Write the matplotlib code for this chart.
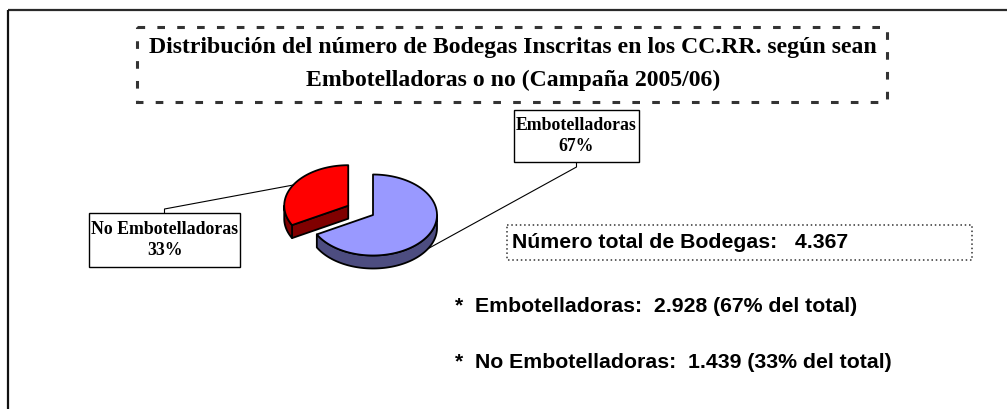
import numpy as np
import matplotlib
matplotlib.use('Agg')
import matplotlib.pyplot as plt
from matplotlib.patches import Polygon, Rectangle

# Data
categories = ['Embotelladoras', 'No Embotelladoras']
counts = [2928, 1439]
top_colors = ['#9999FF', '#FF0000']
side_colors = ['#4D4D80', '#800000']
explode = [0.0, 0.45]

title_lines = ['Distribución del número de Bodegas Inscritas en los CC.RR. según sean',
               'Embotelladoras o no (Campaña 2005/06)']

total = sum(counts)
pcts = [round(100 * c / total) for c in counts]


def miles(n):
    return f'{n:,}'.replace(',', '.')


fig = plt.figure(figsize=(10.07, 4.09), dpi=100)
ax = fig.add_axes([0, 0, 1, 1])
ax.set_xlim(0, 1007)
ax.set_ylim(409, 0)
ax.axis('off')

# outer frame (top + left only)
ax.plot([8, 1007], [9.5, 9.5], color='#2a2a2a', lw=1.6, solid_capstyle='butt')
ax.plot([8, 8], [9.5, 409], color='#111111', lw=1.6, solid_capstyle='butt')

# title with dashed box
ax.add_patch(Rectangle((137, 27), 750, 75, fill=False, ec='#333333', lw=2.2,
                       linestyle=(0, (2.5, 4))))
serif = 'Liberation Serif'
ax.text(513, 48, title_lines[0], ha='center', va='center', fontsize=17.1,
        fontweight='bold', family=serif)
ax.text(513, 80, title_lines[1], ha='center', va='center', fontsize=17.1,
        fontweight='bold', family=serif)

# 3D pie
CX, CY = 373, 215
RX, RY = 64, 40.5
DEPTH = 13


def pt(cx, cy, a, dz=0):
    r = np.radians(a)
    return cx + RX * np.cos(r), cy - RY * np.sin(r) + dz


def arc(cx, cy, a0, a1, dz=0):
    aa = np.linspace(a0, a1, 120)
    r = np.radians(aa)
    return np.column_stack([cx + RX * np.cos(r), cy - RY * np.sin(r) + dz])


# angles: start at 12 o'clock, clockwise
spans = []
start = 90.0
for c in counts:
    sweep = 360.0 * c / total
    spans.append((start - sweep, start))
    start -= sweep

anchors = {}
for i in [1, 0]:
    t1, t2 = spans[i]
    mid = (t1 + t2) / 2
    mr = np.radians(mid)
    cx = CX + explode[i] * RX * np.cos(mr)
    cy = CY - explode[i] * RY * np.sin(mr)
    ec = dict(ec='black', lw=1.3, joinstyle='round')

    # radial side faces facing the viewer
    for a, nrm in ((t1, t1 - 90), (t2, t2 + 90)):
        if np.sin(np.radians(nrm)) < -1e-6:
            face = [(cx, cy), pt(cx, cy, a), pt(cx, cy, a, DEPTH), (cx, cy + DEPTH)]
            ax.add_patch(Polygon(face, closed=True, fc=side_colors[i], **ec))

    # outer wall (front half)
    for k in (-1, 0, 1):
        lo = max(t1, 180 + 360 * k)
        hi = min(t2, 360 + 360 * k)
        if hi > lo:
            top = arc(cx, cy, lo, hi)
            bot = arc(cx, cy, hi, lo, DEPTH)
            ax.add_patch(Polygon(np.vstack([top, bot]), closed=True,
                                 fc=side_colors[i], **ec))

    # top face
    face = np.vstack([[cx, cy], arc(cx, cy, t1, t2)])
    ax.add_patch(Polygon(face, closed=True, fc=top_colors[i], **ec))

    dz = DEPTH if np.sin(mr) < 0 else 0
    anchors[i] = pt(cx, cy, mid, dz)

# data labels
label_boxes = {0: (514, 110, 125, 52), 1: (89, 213, 151, 54)}
for i, (bx, by, bw, bh) in label_boxes.items():
    ax.add_patch(Rectangle((bx, by), bw, bh, fc='white', ec='black', lw=1.0, zorder=3))
    ax.text(bx + bw / 2, by + bh / 2, f'{categories[i]}\n{pcts[i]}%', ha='center',
            va='center', fontsize=12.8, fontweight='bold', family=serif,
            linespacing=1.25, zorder=4)
    ax_, ay_ = anchors[i]
    lx = bx + bw / 2
    if ay_ > by + bh:
        ly = by + bh
        pts_y = [ly, ly + 5, ay_]
    else:
        ly = by
        pts_y = [ly, ly - 4, ay_]
    ax.plot([lx, lx, ax_], pts_y, color='black', lw=0.8, zorder=2)

# summary box
sans = 'Liberation Sans'
ax.add_patch(Rectangle((507, 225), 465, 35, fill=False, ec='#333333', lw=1.1,
                       linestyle=(0, (1, 1.8))))
ax.text(512, 243, f'Número total de Bodegas:   {miles(total)}', ha='left', va='center',
        fontsize=15.3, fontweight='bold', family=sans)

for j, (cat, c, p) in enumerate(zip(categories, counts, pcts)):
    ax.text(455, 306 + 56 * j, f'*  {cat}:  {miles(c)} ({p}% del total)', ha='left',
            va='center', fontsize=15.3, fontweight='bold', family=sans)

fig.savefig('out.png', dpi=100)
